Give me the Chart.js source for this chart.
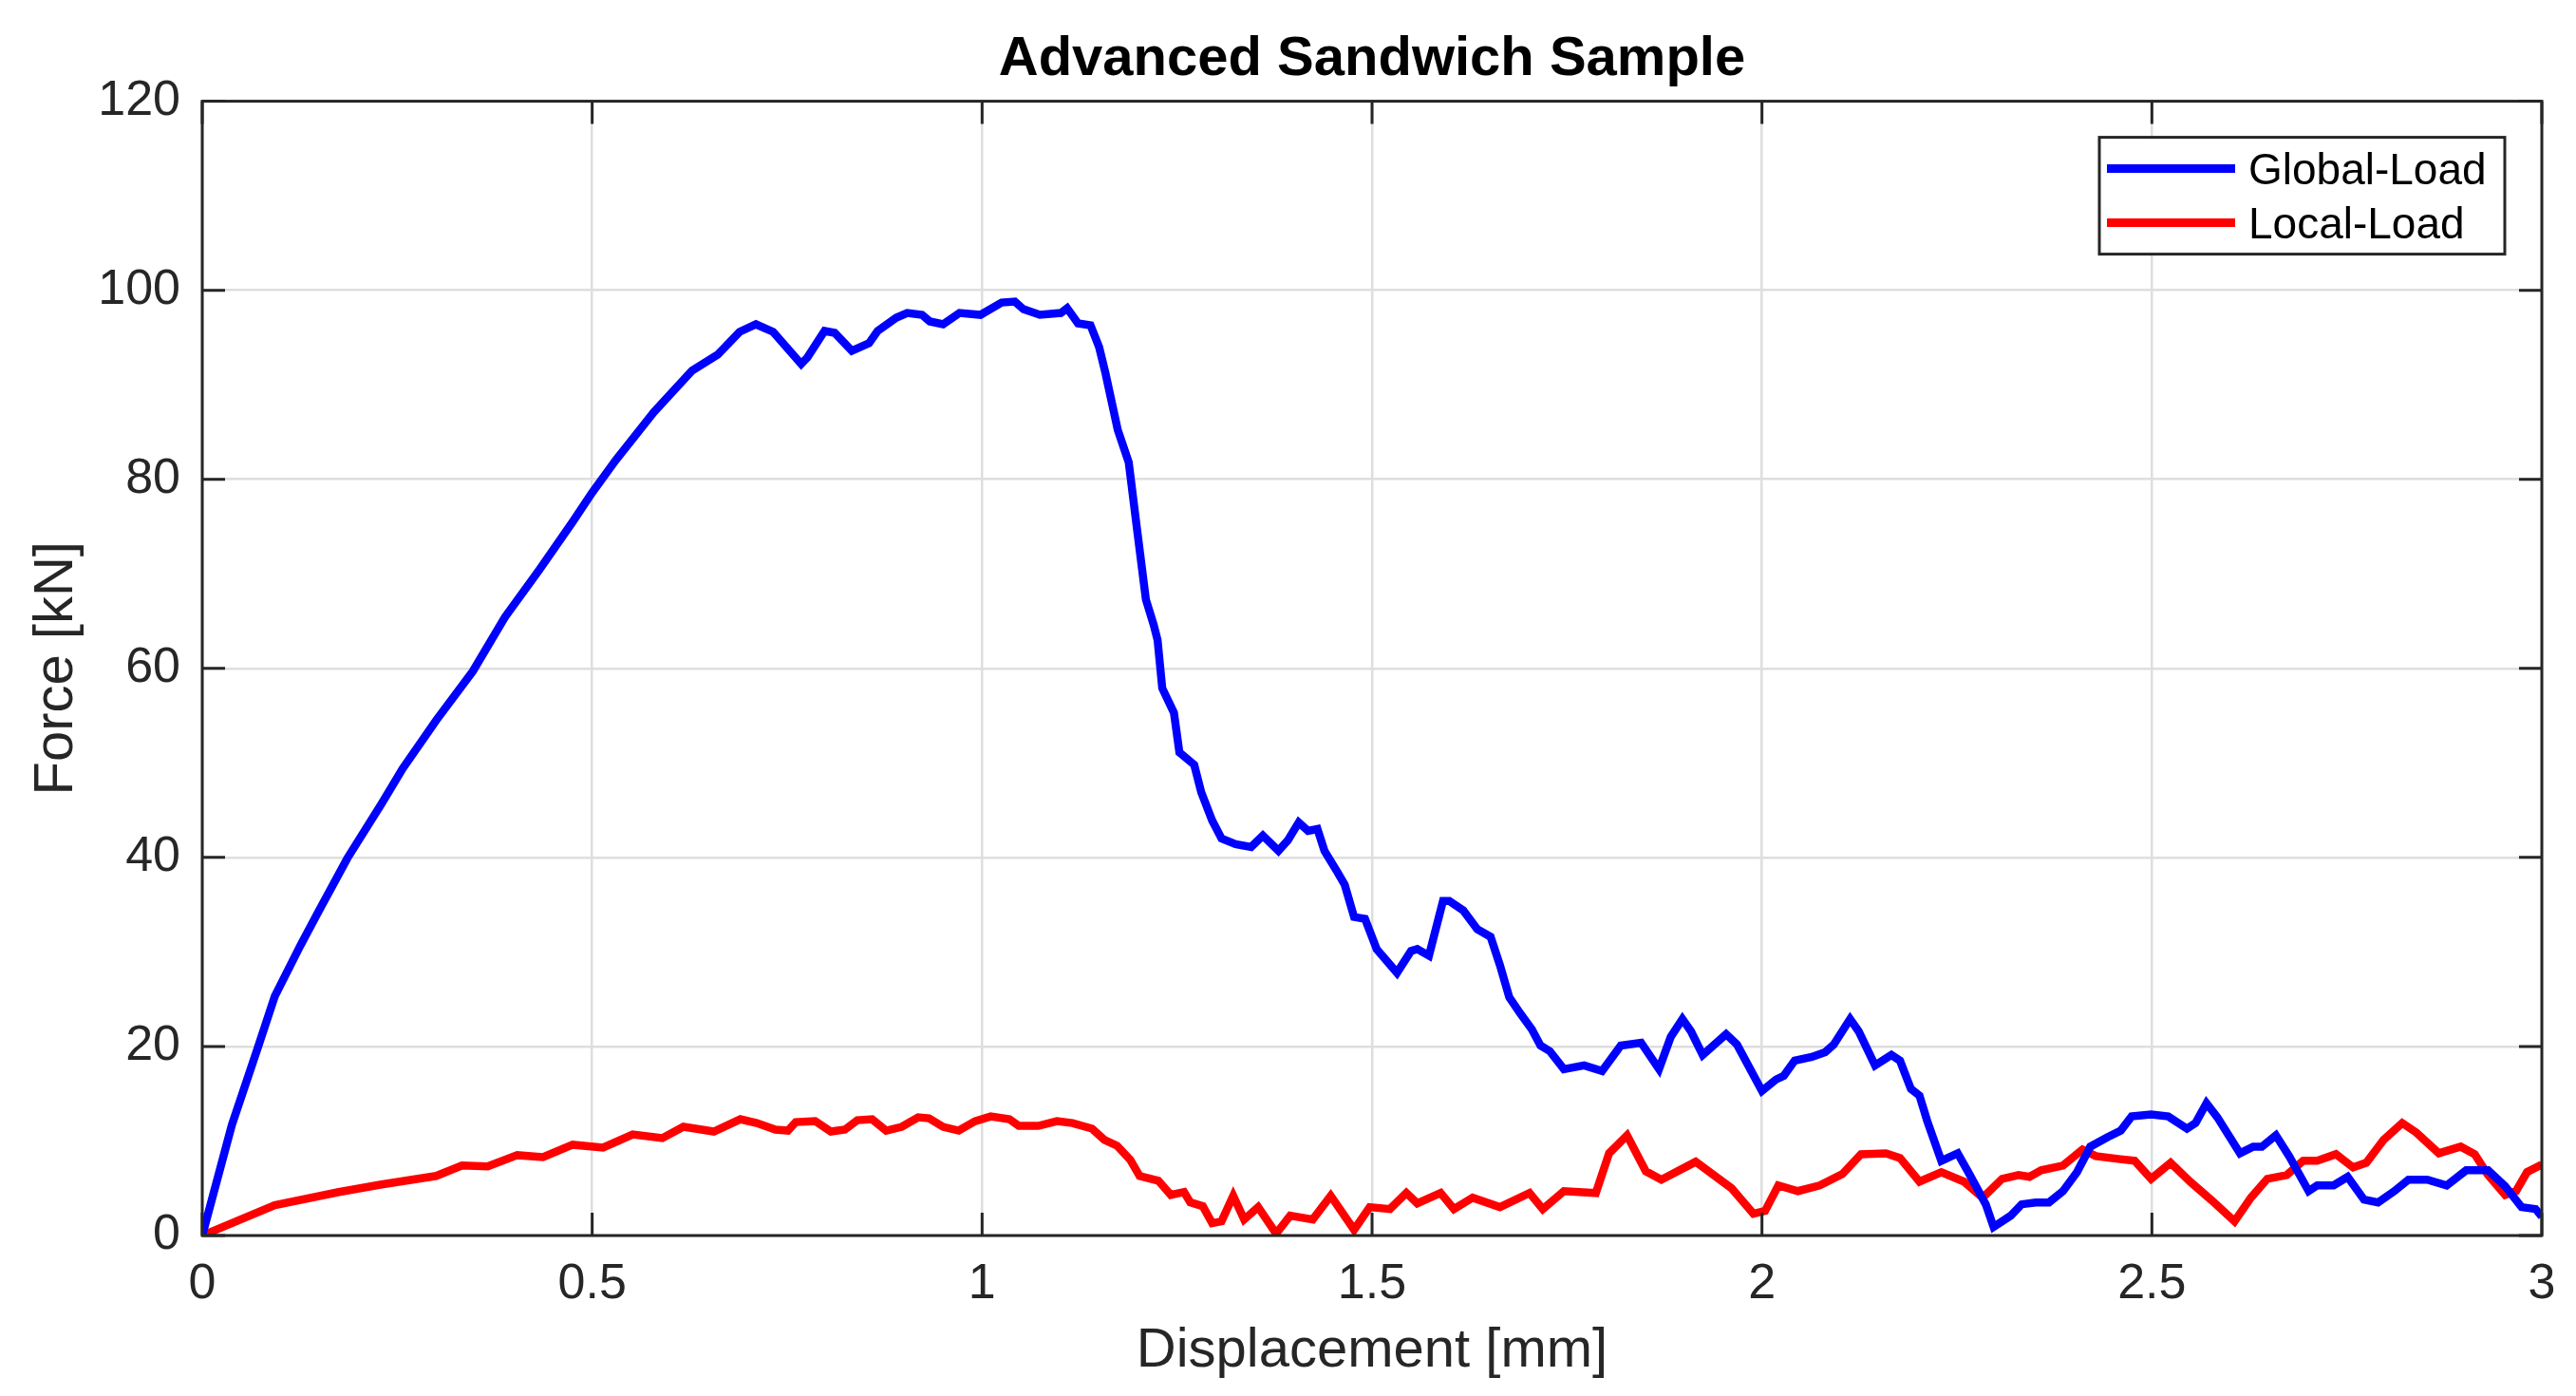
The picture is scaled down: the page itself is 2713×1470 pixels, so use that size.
<!DOCTYPE html>
<html>
<head>
<meta charset="utf-8">
<title>Advanced Sandwich Sample</title>
<script src="https://cdn.jsdelivr.net/npm/chart.js@4.4.1/dist/chart.umd.min.js"></script>
<style>
  html, body { margin: 0; padding: 0; background: #fff; }
  #chart { display: block; }
</style>
</head>
<body>
<canvas id="chart" width="2713" height="1470" style="width:2713px;height:1470px"></canvas>
<script>
// Werte (Weg in mm, Kraft in kN)
const globalX = [0, 0.038, 0.071, 0.093, 0.126, 0.148, 0.186, 0.230, 0.257, 0.300, 0.347, 0.388, 0.432, 0.475, 0.500,
    0.530, 0.579, 0.628, 0.661, 0.689, 0.710, 0.732, 0.768, 0.776, 0.798, 0.811, 0.833, 0.855, 0.866, 0.890, 0.904,
    0.923, 0.933, 0.950, 0.971, 0.998, 1.025, 1.042, 1.053, 1.074, 1.101, 1.109, 1.123, 1.139, 1.150, 1.158, 1.174,
    1.188, 1.199, 1.210, 1.220, 1.225, 1.231, 1.246, 1.253, 1.272, 1.281, 1.295, 1.307, 1.325, 1.345, 1.360, 1.380,
    1.392, 1.406, 1.418, 1.430, 1.439, 1.456, 1.465, 1.477, 1.491, 1.506, 1.532, 1.550, 1.558, 1.573, 1.591, 1.599,
    1.617, 1.635, 1.652, 1.664, 1.676, 1.690, 1.705, 1.716, 1.728, 1.746, 1.772, 1.795, 1.819, 1.845, 1.868, 1.883,
    1.898, 1.909, 1.924, 1.954, 1.968, 2.000, 2.018, 2.028, 2.042, 2.064, 2.081, 2.092, 2.113, 2.124, 2.145, 2.166,
    2.177, 2.191, 2.202, 2.212, 2.230, 2.251, 2.266, 2.287, 2.297, 2.319, 2.333, 2.351, 2.368, 2.386, 2.404, 2.421,
    2.443, 2.460, 2.474, 2.499, 2.521, 2.545, 2.556, 2.570, 2.584, 2.613, 2.630, 2.641, 2.659, 2.676, 2.701, 2.712,
    2.733, 2.751, 2.772, 2.790, 2.811, 2.829, 2.853, 2.878, 2.903, 2.931, 2.953, 2.974, 2.992, 3.000];
const globalY = [0, 11.7, 19.8, 25.3, 30.7, 34.1, 39.9, 45.7, 49.4, 54.5, 59.7, 65.4, 70.4, 75.5, 78.6,
    82.0, 87.1, 91.5, 93.2, 95.6, 96.4, 95.6, 92.2, 92.9, 95.7, 95.5, 93.6, 94.4, 95.7, 97.1, 97.6,
    97.4, 96.7, 96.4, 97.6, 97.4, 98.7, 98.8, 98.0, 97.4, 97.6, 98.1, 96.5, 96.3, 94.0, 91.3, 85.2,
    81.8, 74.5, 67.3, 64.6, 63.0, 57.9, 55.3, 51.1, 49.8, 46.9, 43.9, 42.0, 41.4, 41.1, 42.3, 40.7,
    41.8, 43.7, 42.8, 43.0, 40.7, 38.4, 37.1, 33.7, 33.5, 30.3, 27.8, 30.1, 30.3, 29.6, 35.4, 35.4,
    34.4, 32.4, 31.6, 28.6, 25.2, 23.5, 21.8, 20.1, 19.5, 17.6, 18.0, 17.4, 20.1, 20.4, 17.6, 21.0,
    22.9, 21.6, 19.1, 21.3, 20.2, 15.3, 16.5, 16.9, 18.5, 18.9, 19.4, 20.2, 22.9, 21.6, 18.0, 19.1,
    18.5, 15.5, 14.8, 12.1, 7.9, 8.7, 6.5, 3.3, 0.9, 2.1, 3.3, 3.5, 3.5, 4.7, 6.7, 9.4,
    10.4, 11.1, 12.6, 12.8, 12.6, 11.3, 11.9, 14.0, 12.5, 8.7, 9.4, 9.4, 10.6, 8.4, 4.7, 5.3,
    5.3, 6.2, 3.8, 3.5, 4.7, 5.9, 5.9, 5.3, 6.9, 6.9, 5.2, 3.0, 2.8, 2.0];

const localX = [0, 0.093, 0.175, 0.230, 0.300, 0.333, 0.366, 0.404, 0.437, 0.475, 0.514, 0.552, 0.590, 0.617, 0.656,
    0.690, 0.711, 0.735, 0.751, 0.761, 0.786, 0.806, 0.824, 0.840, 0.859, 0.877, 0.897, 0.918, 0.932, 0.950, 0.970,
    0.991, 1.011, 1.035, 1.047, 1.072, 1.096, 1.116, 1.141, 1.157, 1.173, 1.190, 1.202, 1.226, 1.242, 1.259, 1.267,
    1.283, 1.295, 1.307, 1.322, 1.336, 1.354, 1.377, 1.395, 1.424, 1.447, 1.477, 1.497, 1.523, 1.544, 1.558, 1.588,
    1.605, 1.629, 1.664, 1.702, 1.719, 1.746, 1.787, 1.804, 1.827, 1.851, 1.871, 1.915, 1.961, 1.989, 2.004, 2.021,
    2.046, 2.074, 2.103, 2.127, 2.159, 2.177, 2.202, 2.230, 2.259, 2.283, 2.308, 2.329, 2.343, 2.358, 2.386, 2.411,
    2.428, 2.457, 2.478, 2.499, 2.524, 2.549, 2.577, 2.606, 2.627, 2.648, 2.673, 2.694, 2.712, 2.736, 2.758, 2.775,
    2.797, 2.821, 2.839, 2.868, 2.896, 2.914, 2.931, 2.953, 2.967, 2.981, 3.000];
const localY = [0, 3.2, 4.6, 5.4, 6.3, 7.4, 7.3, 8.5, 8.3, 9.6, 9.3, 10.7, 10.3, 11.5, 11.0,
    12.3, 11.9, 11.2, 11.1, 12.0, 12.1, 11.0, 11.2, 12.2, 12.3, 11.1, 11.5, 12.5, 12.4, 11.5, 11.1,
    12.1, 12.6, 12.3, 11.6, 11.6, 12.1, 11.9, 11.3, 10.1, 9.5, 8.0, 6.3, 5.8, 4.3, 4.6, 3.5,
    3.1, 1.3, 1.5, 4.2, 1.7, 3.0, 0.2, 2.1, 1.7, 4.2, 0.6, 3.0, 2.8, 4.5, 3.4, 4.5,
    2.8, 4.0, 3.0, 4.5, 2.8, 4.7, 4.5, 8.7, 10.6, 6.8, 5.9, 7.8, 5.0, 2.3, 2.6, 5.3,
    4.7, 5.3, 6.5, 8.6, 8.7, 8.2, 5.7, 6.7, 5.7, 4.0, 6.0, 6.4, 6.2, 6.9, 7.4, 9.1,
    8.4, 8.1, 7.9, 6.0, 7.7, 5.7, 3.7, 1.5, 4.0, 6.0, 6.4, 7.9, 7.9, 8.6, 7.2, 7.7,
    10.1, 11.9, 10.9, 8.7, 9.4, 8.6, 6.4, 4.3, 4.7, 6.7, 7.5];

const seriesNames = ['Global-Load', 'Local-Load'];
const xTickValues = [0, 0.5, 1, 1.5, 2, 2.5, 3];
const xTickLabels = ['0', '0.5', '1', '1.5', '2', '2.5', '3'];
const yTickValues = [0, 20, 40, 60, 80, 100, 120];
const yTickLabels = ['0', '20', '40', '60', '80', '100', '120'];

const FONT = '"Liberation Sans", Arial, Helvetica, sans-serif';
const AXIS_COLOR = '#262626';
const GRID_COLOR = '#dedede';

function toPoints(xs, ys) {
    return xs.map((x, i) => ({ x: x, y: ys[i] }));
}

// MATLAB-artiger Rahmen mit nach innen zeigenden Ticks und Legende mit Kasten
const matlabBox = {
    id: 'matlabBox',
    afterDatasetsDraw(chart) {
        const ctx = chart.ctx;
        const area = chart.chartArea;
        const xs = chart.scales.x;
        const ys = chart.scales.y;
        const tickLen = 24;

        ctx.save();
        ctx.strokeStyle = AXIS_COLOR;
        ctx.lineWidth = 3;
        ctx.strokeRect(area.left, area.top, area.right - area.left, area.bottom - area.top);

        ctx.beginPath();
        xs.ticks.forEach(t => {
            const px = xs.getPixelForValue(t.value);
            ctx.moveTo(px, area.bottom);
            ctx.lineTo(px, area.bottom - tickLen);
            ctx.moveTo(px, area.top);
            ctx.lineTo(px, area.top + tickLen);
        });
        ys.ticks.forEach(t => {
            const py = ys.getPixelForValue(t.value);
            ctx.moveTo(area.left, py);
            ctx.lineTo(area.left + tickLen, py);
            ctx.moveTo(area.right, py);
            ctx.lineTo(area.right - tickLen, py);
        });
        ctx.stroke();

        // Legende
        const boxW = 427, boxH = 123;
        const boxX = area.right - 39 - boxW;
        const boxY = area.top + 38;
        ctx.fillStyle = '#ffffff';
        ctx.fillRect(boxX, boxY, boxW, boxH);
        ctx.strokeRect(boxX, boxY, boxW, boxH);

        ctx.font = '46px ' + FONT;
        ctx.textBaseline = 'middle';
        ctx.textAlign = 'left';
        chart.data.datasets.forEach((ds, i) => {
            const cy = boxY + 33 + i * 57;
            ctx.strokeStyle = ds.borderColor;
            ctx.lineWidth = 9;
            ctx.beginPath();
            ctx.moveTo(boxX + 8, cy);
            ctx.lineTo(boxX + 143, cy);
            ctx.stroke();
            ctx.fillStyle = '#000000';
            ctx.fillText(ds.label, boxX + 157, cy + 4);
        });
        ctx.restore();
    }
};

function drawChart() {
    const ctx = document.getElementById('chart').getContext('2d');
    Chart.defaults.font.family = FONT;

    new Chart(ctx, {
        type: 'line',
        data: {
            datasets: [{
                label: seriesNames[0],
                data: toPoints(globalX, globalY),
                borderColor: '#0000ff',
                borderWidth: 8.5,
                pointRadius: 0,
                tension: 0,
                fill: false
            }, {
                label: seriesNames[1],
                data: toPoints(localX, localY),
                borderColor: '#ff0000',
                borderWidth: 8.5,
                pointRadius: 0,
                tension: 0,
                fill: false
            }]
        },
        options: {
            responsive: false,
            animation: false,
            layout: { padding: { top: 0, right: 36, bottom: 0, left: 0 } },
            plugins: {
                legend: { display: false },
                tooltip: { enabled: false },
                title: {
                    display: true,
                    text: 'Advanced Sandwich Sample',
                    fullSize: false,
                    color: '#000000',
                    font: { size: 58, weight: 'bold' },
                    padding: { top: 28, bottom: 9 }
                }
            },
            scales: {
                x: {
                    type: 'linear',
                    min: 0,
                    max: 3,
                    afterBuildTicks: s => { s.ticks = xTickValues.map(v => ({ value: v })); },
                    afterFit: s => { s.height = 169; },
                    border: { display: false },
                    grid: { color: GRID_COLOR, lineWidth: 2.5, drawTicks: false },
                    ticks: {
                        padding: 20,
                        color: AXIS_COLOR,
                        font: { size: 52 },
                        maxRotation: 0,
                        callback: (value, i) => xTickLabels[i]
                    },
                    title: {
                        display: true,
                        text: 'Displacement [mm]',
                        color: AXIS_COLOR,
                        font: { size: 58 },
                        padding: { top: 0, bottom: 12 }
                    }
                },
                y: {
                    type: 'linear',
                    min: 0,
                    max: 120,
                    afterBuildTicks: s => { s.ticks = yTickValues.map(v => ({ value: v })); },
                    afterFit: s => { s.width = 213; },
                    border: { display: false },
                    grid: { color: GRID_COLOR, lineWidth: 2.5, drawTicks: false },
                    ticks: {
                        padding: 23,
                        color: AXIS_COLOR,
                        font: { size: 52 },
                        callback: (value, i) => yTickLabels[i]
                    },
                    title: {
                        display: true,
                        text: 'Force [kN]',
                        color: AXIS_COLOR,
                        font: { size: 58 },
                        padding: { top: 25, bottom: 0 }
                    }
                }
            }
        },
        plugins: [matlabBox]
    });
}

window.onload = drawChart;
</script>
</body>
</html>
